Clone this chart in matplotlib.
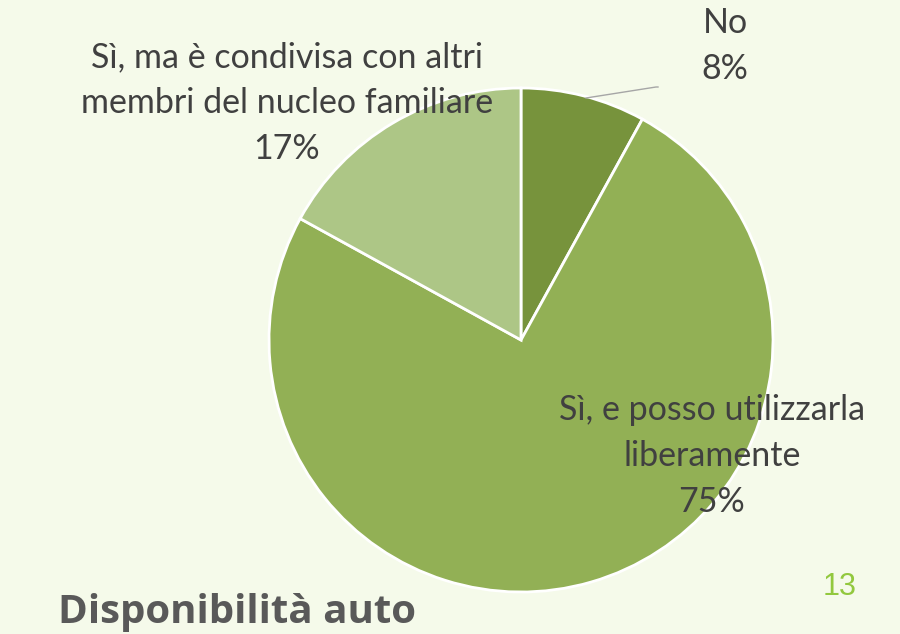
import matplotlib.pyplot as plt

# Disponibilità auto - torta
categorie = ["No", "Sì, e posso utilizzarla\nliberamente",
             "Sì, ma è condivisa con altri\nmembri del nucleo familiare"]
valori = [8, 75, 17]
colori = ["#77933C", "#92B055", "#ADC686"]

sfondo = "#F5FAEA"
W, H = 900, 634

fig = plt.figure(figsize=(9, 6.34), dpi=100, facecolor=sfondo)

# asse della torta: centro (521, 340) px, raggio 252 px
cx, cy, r = 521, 340, 252
ax = fig.add_axes([(cx - r) / W, 1 - (cy + r) / H, 2 * r / W, 2 * r / H])
ax.set_facecolor(sfondo)
ax.pie(valori, colors=colori, startangle=90, counterclock=False,
       wedgeprops=dict(edgecolor="white", linewidth=2))
ax.set_xlim(-1, 1)
ax.set_ylim(-1, 1)
ax.set_aspect("equal")
ax.axis("off")

def px(x, y):
    return x / W, 1 - y / H

testo = dict(ha="center", va="center", fontsize=24.5, color="#404040",
             family="Lato", linespacing=1.53)

fig.text(*px(725, 46), f"{categorie[0]}\n{valori[0]}%", **testo)
fig.text(*px(712, 456), f"{categorie[1]}\n{valori[1]}%", **testo)
fig.text(*px(287, 103), f"{categorie[2]}\n{valori[2]}%", **testo)

# linea guida per "No"
fig.add_artist(plt.Line2D([586 / W, 656 / W, 658 / W],
                          [1 - 98 / H, 1 - 87 / H, 1 - 87 / H],
                          color="#A6A6A6", linewidth=1))

fig.text(*px(58, 612), "Disponibilità auto", ha="left", va="center",
         fontsize=29, fontweight="bold", color="#595959", family="Open Sans")
fig.text(*px(840, 587), "13", ha="center", va="center", fontsize=22,
         color="#92C83E", family="Liberation Sans")

fig.savefig("out.png", dpi=100, facecolor=sfondo)
